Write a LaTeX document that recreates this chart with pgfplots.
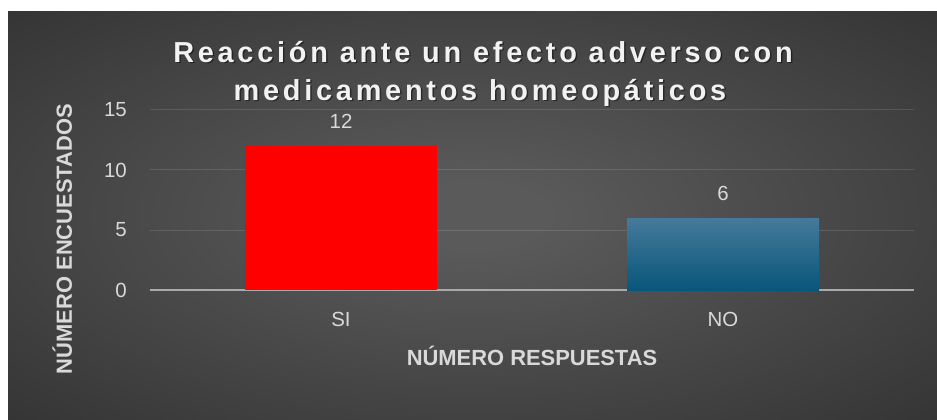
\documentclass[border=0pt]{standalone}
\usepackage{fontspec}
\setmainfont{Liberation Sans}
\newfontfamily\titlefont{Liberation Sans}[LetterSpace=13]
\usepackage{pgfplots}
\pgfplotsset{compat=1.18}
\definecolor{bgin}{RGB}{90,90,90}
\definecolor{bgout}{RGB}{36,36,36}
\definecolor{txt}{RGB}{217,217,217}
\definecolor{ttl}{RGB}{242,242,242}
\definecolor{axln}{RGB}{170,170,170}
\definecolor{notop}{RGB}{70,122,155}
\definecolor{nobot}{RGB}{8,86,122}
\pgfdeclareradialshading{bgshade}{\pgfpoint{0bp}{0bp}}{color(0bp)=(bgin); color(4bp)=(bgin); color(50bp)=(bgout)}
\begin{document}
\begin{tikzpicture}[x=1bp,y=1bp]
\fill[white] (0,0) rectangle (937,419);
\shade[shading=bgshade] (8,0) rectangle (937,407);
\begin{axis}[
  at={(150bp,129bp)}, anchor=south west,
  scale only axis, width=764bp, height=180bp,
  xmin=-0.5, xmax=1.5, ymin=0, ymax=15,
  xtick={0,1}, xticklabels={SI,NO},
  ytick={0,5,10,15},
  ymajorgrids,
  major grid style={white, opacity=0.12, line width=1bp},
  axis x line*=bottom, axis y line*=left,
  x axis line style={draw=axln, line width=1.6bp, -},
  y axis line style={draw=none},
  major tick length=0,
  /pgf/number format/assume math mode=true,
  tick label style={font=\fontsize{20.5}{24}\selectfont, color=txt, inner sep=0},
  yticklabel style={anchor=east, xshift=-23bp},
  xticklabel style={anchor=north, yshift=-22bp},
  xlabel={NÚMERO RESPUESTAS},
  ylabel={NÚMERO ENCUESTADOS},
  label style={font=\bfseries\fontsize{22}{26}\selectfont, color=txt, inner sep=0},
  xlabel style={at={(axis description cs:0.5,0)}, anchor=base, yshift=-75bp},
  ylabel style={at={(axis description cs:-0.1021,0.283)}, anchor=base},
  nodes near coords,
  every node near coord/.append style={font=\fontsize{20.5}{24}\selectfont, color=txt, anchor=south, inner sep=0, yshift=17bp},
]
\addplot[ybar, bar width=192bp, bar shift=0pt, fill=red, draw=none] coordinates {(0,12)};
\addplot[ybar, bar width=192bp, bar shift=0pt, top color=notop, bottom color=nobot, draw=none] coordinates {(1,6)};
\end{axis}
\begin{scope}[font=\titlefont\bfseries\fontsize{29}{36}\selectfont]
\node[anchor=base, black, opacity=0.45] at (484.5,355.5) {Reacción ante un efecto adverso con};
\node[anchor=base, black, opacity=0.45] at (481.5,317.5) {medicamentos homeopáticos};
\node[anchor=base, ttl] at (483,357) {Reacción ante un efecto adverso con};
\node[anchor=base, ttl] at (480,319) {medicamentos homeopáticos};
\end{scope}
\end{tikzpicture}
\end{document}
